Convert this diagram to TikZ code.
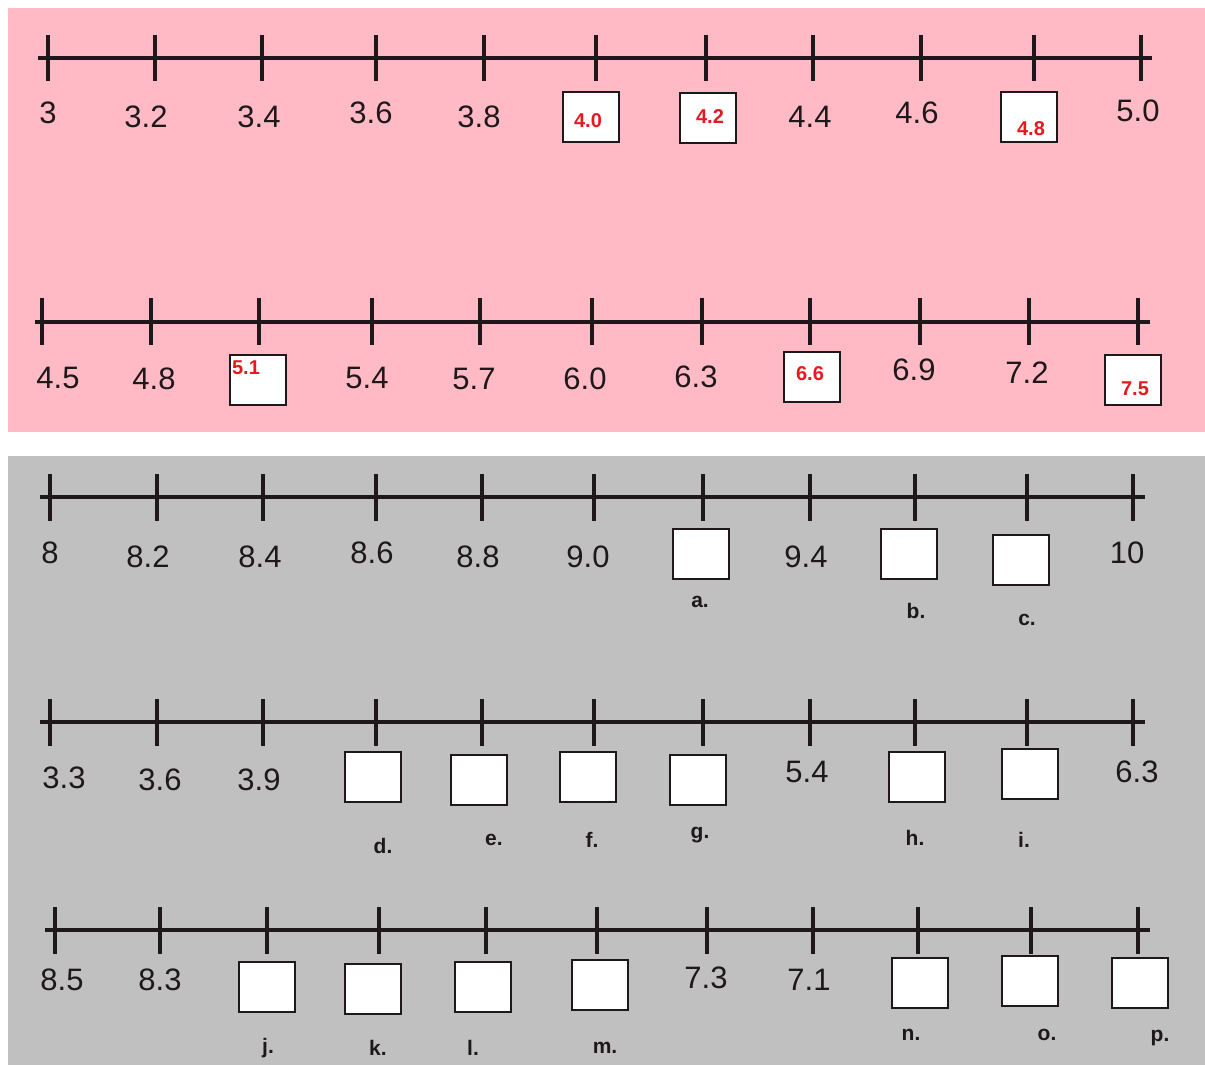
\documentclass[tikz,border=0pt]{standalone}
\usepackage{fontspec}
\setmainfont{Liberation Sans}
\definecolor{pinkbg}{RGB}{255,186,198}
\definecolor{graybg}{RGB}{192,192,192}
\definecolor{ansred}{RGB}{230,25,30}
\definecolor{ink}{RGB}{30,24,26}
\tikzset{
  axis/.style={line width=4pt,ink},
  tickmark/.style={line width=4pt,ink},
  num/.style={font=\fontsize{31}{31}\selectfont,text=ink,inner sep=0pt},
  rednum/.style={font=\fontsize{20}{20}\selectfont\bfseries,text=ansred,inner sep=0pt},
  ansbox/.style={draw=ink,line width=2pt,fill=white,minimum width=56pt,minimum height=50pt,inner sep=0pt},
  letter/.style={font=\fontsize{21}{21}\selectfont\bfseries,text=ink,inner sep=0pt}
}
\begin{document}
\begin{tikzpicture}[x=1pt,y=-1pt]
\useasboundingbox (0,0) rectangle (1205,1065);
\fill[white] (0,0) rectangle (1205,1065);
\fill[pinkbg] (8,8) rectangle (1205,432);
\fill[graybg] (8,456) rectangle (1205,1065);

% ---------- Line 1 ----------
\coordinate (a1s) at (38,58); \coordinate (a1e) at (1152,58);
\draw[axis] (a1s) -- (a1e);
\foreach \x in {48,155,262,376,484,596,706,813,921,1034,1141}
  \draw[tickmark] (\x,35) -- (\x,81);
\node[num] (n30) at (48,113) {3};
\node[num] (n32) at (146,117) {3.2};
\node[num] (n34) at (259,117) {3.4};
\node[num] (n36) at (371,113) {3.6};
\node[num] (n38) at (479,117) {3.8};
\node[ansbox] (b40) at (590.5,117) {};
\node[rednum] (t40) at (588,121) {4.0};
\node[ansbox] (b42) at (708,118) {};
\node[rednum] (t42) at (710,117) {4.2};
\node[num] (n44) at (810,117) {4.4};
\node[num] (n46) at (917,113) {4.6};
\node[ansbox] (b48) at (1028.5,116.5) {};
\node[rednum] (t48) at (1031,129) {4.8};
\node[num] (n50) at (1138,111) {5.0};

% ---------- Line 2 ----------
\coordinate (a2s) at (35,322); \coordinate (a2e) at (1150,322);
\draw[axis] (a2s) -- (a2e);
\foreach \x in {42,151,259,372,480,592,702,810,920,1029,1138}
  \draw[tickmark] (\x,298) -- (\x,345);
\node[num] (n45) at (58,378) {4.5};
\node[num] (n48) at (154,379) {4.8};
\node[ansbox] (b51) at (257.5,380) {};
\node[rednum] (t51) at (246,368) {5.1};
\node[num] (n54) at (367,378) {5.4};
\node[num] (n57) at (474,379) {5.7};
\node[num] (n60) at (585,379) {6.0};
\node[num] (n63) at (696,377) {6.3};
\node[ansbox] (b66) at (811.5,377) {};
\node[rednum] (t66) at (810,374) {6.6};
\node[num] (n69) at (914,370) {6.9};
\node[num] (n72) at (1027,373) {7.2};
\node[ansbox] (b75) at (1132.5,380) {};
\node[rednum] (t75) at (1135,389) {7.5};

% ---------- Line 3 ----------
\coordinate (a3s) at (40,497); \coordinate (a3e) at (1145,497);
\draw[axis] (a3s) -- (a3e);
\foreach \x in {50,157,263,376,482,594,703,810,915,1027,1133}
  \draw[tickmark] (\x,474) -- (\x,521);
\node[num] (n80) at (50,553) {8};
\node[num] (n82) at (148,557) {8.2};
\node[num] (n84) at (260,557) {8.4};
\node[num] (n86) at (372,553) {8.6};
\node[num] (n88) at (478,557) {8.8};
\node[num] (n90) at (588,557) {9.0};
\node[ansbox] (ba) at (701,554) {};
\node[letter] (la) at (700,602) {a.};
\node[num] (n94) at (806,557) {9.4};
\node[ansbox] (bb) at (909,554) {};
\node[letter] (lb) at (916,611) {b.};
\node[ansbox] (bc) at (1021,560) {};
\node[letter] (lc) at (1027,620) {c.};
\node[num] (n10) at (1127,553) {10};

% ---------- Line 4 ----------
\coordinate (a4s) at (40,722); \coordinate (a4e) at (1145,722);
\draw[axis] (a4s) -- (a4e);
\foreach \x in {50,157,263,376,482,594,703,810,915,1027,1133}
  \draw[tickmark] (\x,699) -- (\x,746);
\node[num] (n33) at (64,778) {3.3};
\node[num] (n36b) at (160,780) {3.6};
\node[num] (n39) at (259,780) {3.9};
\node[ansbox] (bd) at (373,777) {};
\node[letter] (ld) at (383,846) {d.};
\node[ansbox] (be) at (478.5,780) {};
\node[letter] (le) at (494,840) {e.};
\node[ansbox] (bf) at (588,777) {};
\node[letter] (lf) at (592,840) {f.};
\node[ansbox] (bg) at (698,780) {};
\node[letter] (lg) at (700,835) {g.};
\node[num] (n54b) at (807,772) {5.4};
\node[ansbox] (bh) at (917,777) {};
\node[letter] (lh) at (915,838) {h.};
\node[ansbox] (bi) at (1030,774) {};
\node[letter] (li) at (1024,840) {i.};
\node[num] (n63b) at (1137,772) {6.3};

% ---------- Line 5 ----------
\coordinate (a5s) at (45,930); \coordinate (a5e) at (1150,930);
\draw[axis] (a5s) -- (a5e);
\foreach \x in {55,160,267,379,486,597,707,813,918,1031,1138}
  \draw[tickmark] (\x,907) -- (\x,954);
\node[num] (n85) at (62,980) {8.5};
\node[num] (n83) at (160,980) {8.3};
\node[ansbox] (bj) at (267,987) {};
\node[letter] (lj) at (268,1048) {j.};
\node[ansbox] (bk) at (373,989) {};
\node[letter] (lk) at (378,1048) {k.};
\node[ansbox] (bl) at (483,987) {};
\node[letter] (ll) at (473,1048) {l.};
\node[ansbox] (bm) at (600,985) {};
\node[letter] (lm) at (605,1048) {m.};
\node[num] (n73) at (706,978) {7.3};
\node[num] (n71) at (809,980) {7.1};
\node[ansbox] (bn) at (920,983) {};
\node[letter] (ln) at (911,1035) {n.};
\node[ansbox] (bo) at (1030,981) {};
\node[letter] (lo) at (1047,1035) {o.};
\node[ansbox] (bp) at (1140,983) {};
\node[letter] (lp) at (1160,1038) {p.};
\end{tikzpicture}
\end{document}
